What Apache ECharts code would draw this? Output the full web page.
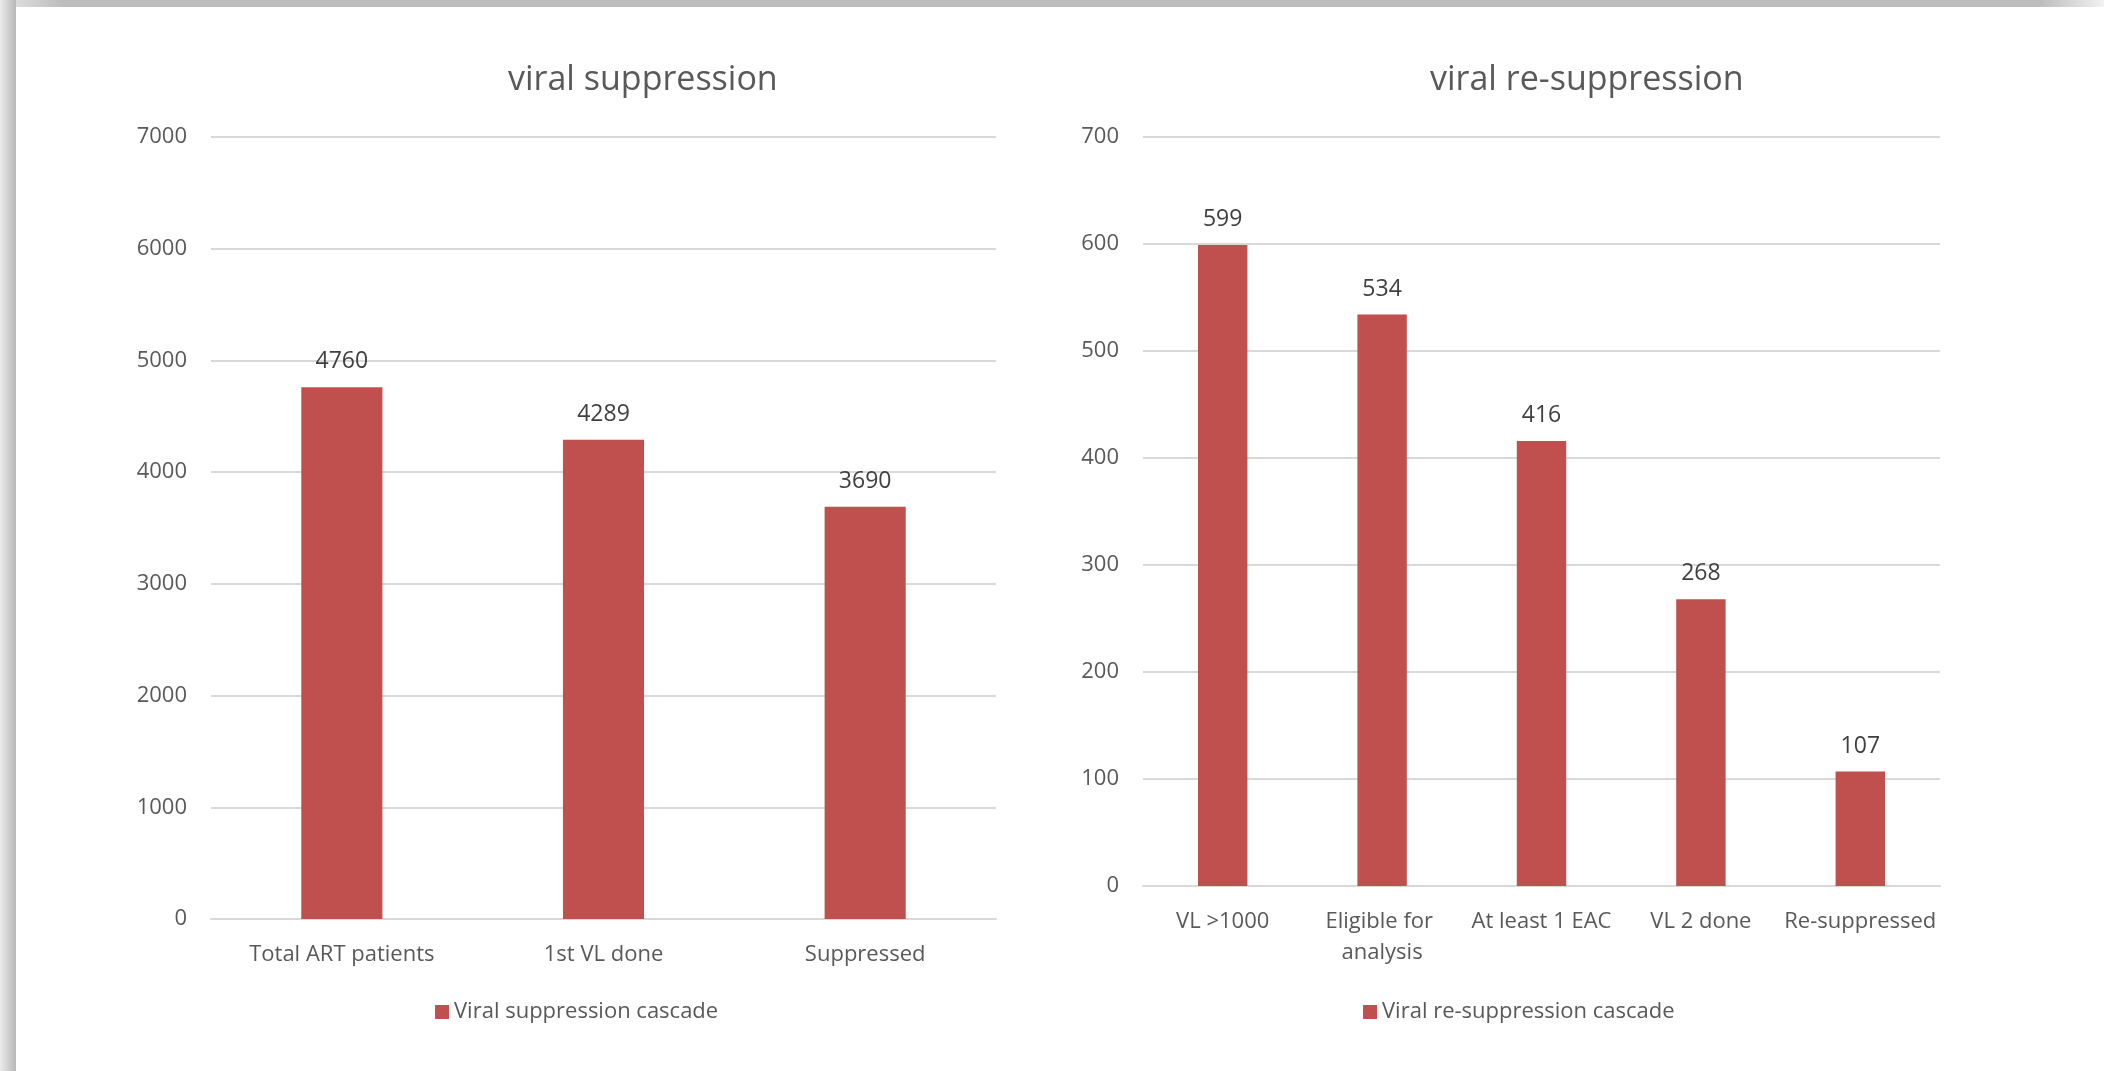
<!DOCTYPE html>
<html>
<head>
<meta charset="utf-8">
<style>
    html, body { margin: 0; padding: 0; background: #fff; }
    #main { width: 2104px; height: 1071px; }
</style>
<script src="https://cdn.jsdelivr.net/npm/echarts@6/dist/echarts.min.js"></script>
</head>
<body>
<div id="main"></div>
<script>
var leftCategories = ['Total ART patients', '1st VL done', 'Suppressed'];
var leftValues = [4760, 4289, 3690];
var leftName = 'Viral suppression cascade';

var rightCategories = ['VL >1000', 'Eligible for analysis', 'At least 1 EAC', 'VL 2 done', 'Re-suppressed'];
var rightValues = [599, 534, 416, 268, 107];
var rightName = 'Viral re-suppression cascade';

~function () {
    var myChart = echarts.init(document.getElementById('main'));
    var font = 'Open Sans';
    var grey = '#595959';
    var barColor = '#c0504d';

    // plain numbers, no thousands separator
    var yLabel = {
        color: grey, fontFamily: font, fontSize: 22, margin: 24,
        formatter: function (v) { return String(v); }
    };
    var xLabel = {color: grey, fontFamily: font, fontSize: 22, margin: 20, lineHeight: 31};
    var valueLabel = {show: true, position: 'top', distance: 14, color: '#404040', fontFamily: font, fontSize: 23};

    var option = {
        backgroundColor: '#fff',
        animation: false,
        title: [
            {
                text: 'viral suppression',
                left: 503, top: 58,
                textStyle: {color: grey, fontFamily: font, fontSize: 34, fontWeight: 'normal'}
            },
            {
                text: 'viral re-suppression',
                left: 1425, top: 58,
                textStyle: {color: grey, fontFamily: font, fontSize: 34, fontWeight: 'normal'}
            }
        ],
        legend: [
            {
                data: [leftName],
                left: 430, top: 996,
                itemWidth: 14, itemHeight: 14, icon: 'rect',
                textStyle: {color: grey, fontFamily: font, fontSize: 22}
            },
            {
                data: [rightName],
                left: 1358, top: 996,
                itemWidth: 14, itemHeight: 14, icon: 'rect',
                textStyle: {color: grey, fontFamily: font, fontSize: 22}
            }
        ],
        grid: [
            {left: 211, right: 1108, top: 137, bottom: 152},
            {left: 1143, right: 164, top: 137, bottom: 185}
        ],
        xAxis: [
            {
                type: 'category', gridIndex: 0, data: leftCategories,
                axisLine: {lineStyle: {color: '#d9d9d9', width: 2}},
                axisTick: {show: false},
                axisLabel: xLabel
            },
            {
                type: 'category', gridIndex: 1, data: rightCategories,
                axisLine: {lineStyle: {color: '#d9d9d9', width: 2}},
                axisTick: {show: false},
                axisLabel: Object.assign({width: 158, overflow: 'break', interval: 0}, xLabel)
            }
        ],
        yAxis: [
            {
                type: 'value', gridIndex: 0, min: 0, max: 7000, interval: 1000,
                axisLine: {show: false}, axisTick: {show: false},
                splitLine: {lineStyle: {color: '#d9d9d9', width: 2}},
                axisLabel: yLabel
            },
            {
                type: 'value', gridIndex: 1, min: 0, max: 700, interval: 100,
                axisLine: {show: false}, axisTick: {show: false},
                splitLine: {lineStyle: {color: '#d9d9d9', width: 2}},
                axisLabel: yLabel
            }
        ],
        series: [
            {
                name: leftName, type: 'bar', xAxisIndex: 0, yAxisIndex: 0,
                data: leftValues, barWidth: '31%',
                itemStyle: {color: barColor},
                label: valueLabel
            },
            {
                name: rightName, type: 'bar', xAxisIndex: 1, yAxisIndex: 1,
                data: rightValues, barWidth: '31%',
                itemStyle: {color: barColor},
                label: valueLabel
            }
        ],
        graphic: [
            // shadow frame of the pasted picture
            {
                type: 'rect', left: 0, top: 0, z: 100,
                shape: {width: 2104, height: 7},
                style: {fill: new echarts.graphic.LinearGradient(0, 0, 1, 0, [
                    {offset: 0, color: '#e6e6e6'},
                    {offset: 0.03, color: '#bdbdbd'},
                    {offset: 0.97, color: '#bdbdbd'},
                    {offset: 1, color: '#f2f2f2'}
                ])}
            },
            {
                type: 'rect', left: 0, top: 0, z: 101,
                shape: {width: 16, height: 1071},
                style: {fill: new echarts.graphic.LinearGradient(0, 0, 1, 0, [
                    {offset: 0, color: '#ececec'},
                    {offset: 0.4, color: '#d6d6d6'},
                    {offset: 1, color: '#b8b8b8'}
                ])}
            }
        ]
    };
    myChart.setOption(option);
}();
</script>
</body>
</html>
